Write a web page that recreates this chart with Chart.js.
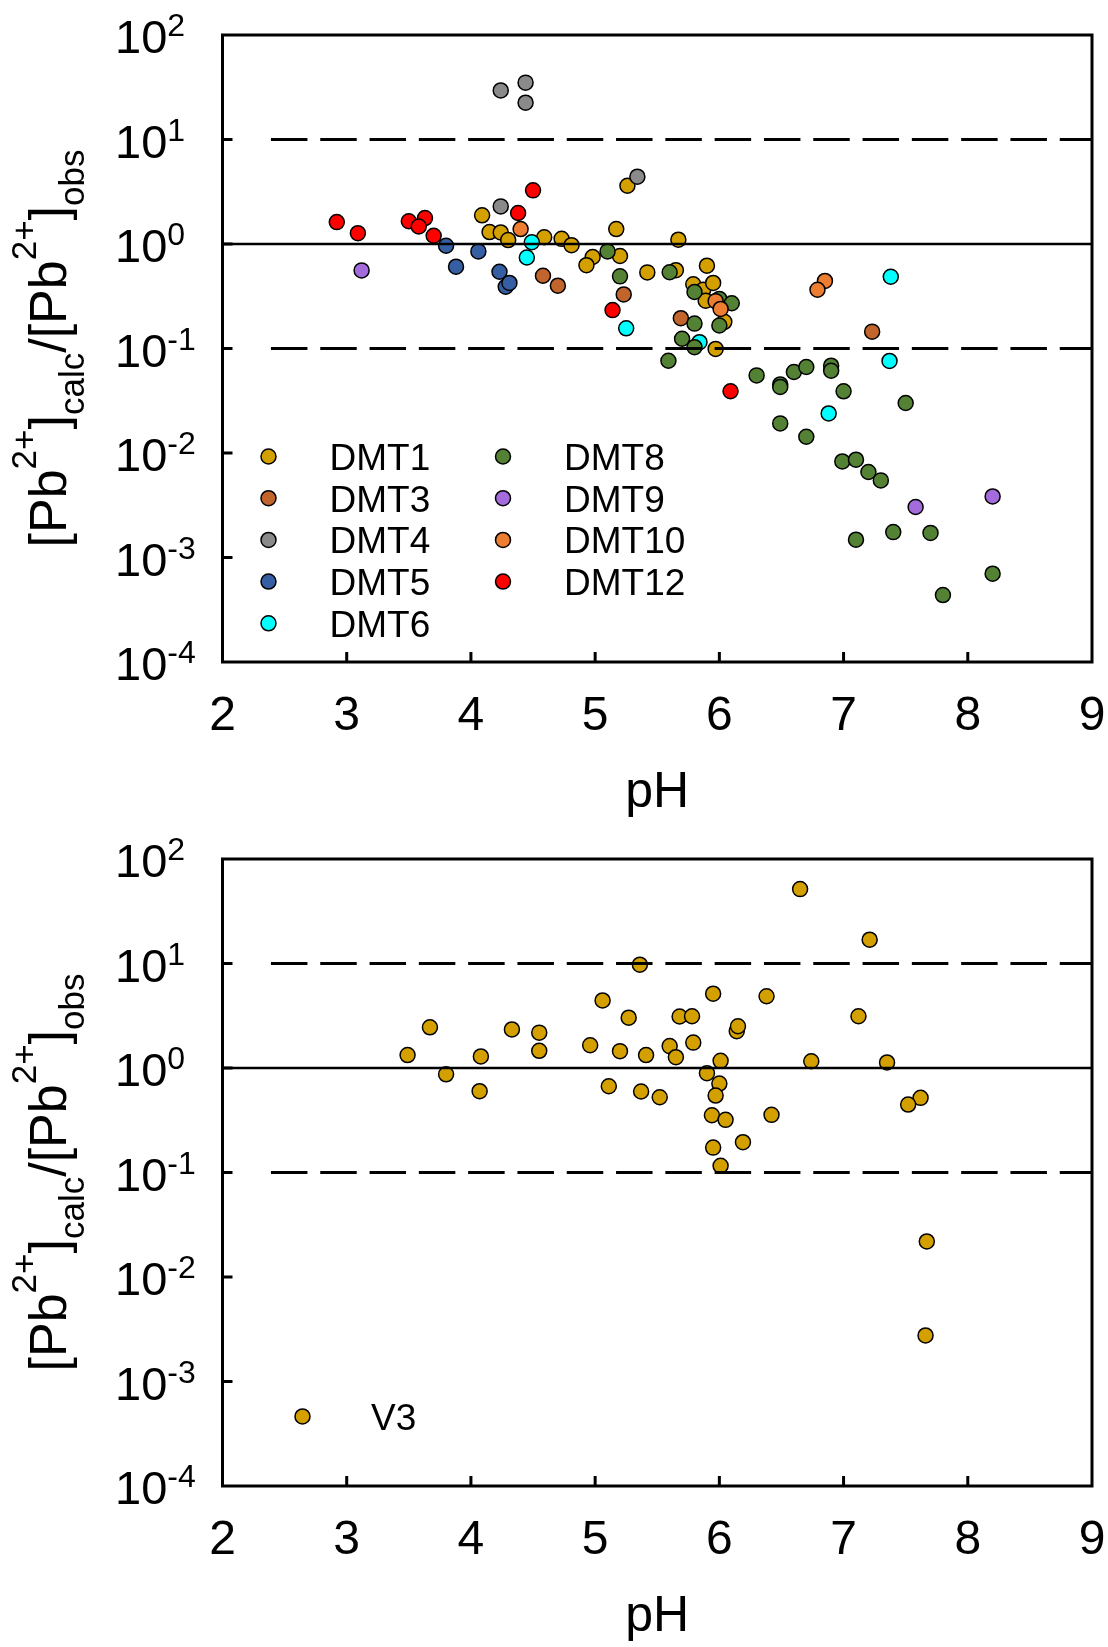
<!DOCTYPE html>
<html>
<head>
<meta charset="utf-8">
<script src="https://cdn.jsdelivr.net/npm/chart.js@4.4.1/dist/chart.umd.min.js"></script>
<style>
  html, body { margin: 0; padding: 0; background: #fff; overflow: hidden; }
  #wrap { position: relative; width: 1108px; height: 1647px; }
  canvas { position: absolute; left: 0; }
</style>
</head>
<body>
<div id="wrap">
  <canvas id="topChart" width="1108" height="824" style="top:0"></canvas>
  <canvas id="bottomChart" width="1108" height="823" style="top:824px"></canvas>
</div>
<script>
// axis ticks
const X_TICKS = [2, 3, 4, 5, 6, 7, 8, 9]
const Y_EXPONENTS = [2, 1, 0, -1, -2, -3, -4]

// reference lines (ratio = 10, 1, 0.1)
const REF_RATIOS = [10, 1, 0.1]
const REF_START_PH = [2.39, 2, 2.39]
const REF_END_PH = 9

// top panel series
const SERIES_LABELS = ['DMT1', 'DMT3', 'DMT4', 'DMT5', 'DMT6', 'DMT8', 'DMT9', 'DMT10', 'DMT12']
const SERIES_COLORS = ['#D4A000', '#C2652C', '#8A8A8A', '#365FA3', '#00FFFF', '#548235', '#A46BDD', '#ED7D31', '#FF0000']

const DMT1_PH = [4.09, 4.15, 4.24, 4.30, 4.59, 4.73, 4.81, 4.98, 4.93, 5.17, 5.20, 5.26, 5.42, 5.67, 5.65, 5.90, 5.79, 5.87, 5.95, 5.89, 6.04, 5.97]
const DMT1_RATIO = [1.88, 1.30, 1.29, 1.09, 1.16, 1.12, 0.974, 0.751, 0.627, 1.39, 0.768, 3.61, 0.535, 1.10, 0.562, 0.620, 0.412, 0.365, 0.424, 0.287, 0.180, 0.099]
const DMT3_PH = [4.58, 4.70, 5.23, 5.69, 7.23]
const DMT3_RATIO = [0.497, 0.399, 0.329, 0.195, 0.145]
const DMT4_PH = [4.24, 4.44, 4.44, 4.24, 5.34]
const DMT4_RATIO = [29.5, 35.0, 22.5, 2.29, 4.41]
const DMT5_PH = [3.80, 4.06, 3.88, 4.23, 4.28, 4.31]
const DMT5_RATIO = [0.963, 0.850, 0.607, 0.543, 0.390, 0.424]
const DMT6_PH = [4.49, 4.45, 5.25, 5.84, 7.38, 7.37, 6.88]
const DMT6_RATIO = [1.04, 0.743, 0.156, 0.115, 0.486, 0.076, 0.0239]
const DMT8_PH = [5.10, 5.20, 5.60, 5.80, 6.00, 6.10, 5.80, 6.00, 5.70, 5.80, 5.59, 6.30, 6.49, 6.49, 6.60, 6.70, 6.90, 6.90, 7.00, 7.50, 6.49, 6.70, 6.99, 7.10, 7.20, 7.30, 7.10, 7.40, 7.70, 7.80, 8.20]
const DMT8_RATIO = [0.850, 0.490, 0.537, 0.347, 0.298, 0.271, 0.173, 0.166, 0.124, 0.103, 0.0764, 0.0553, 0.0453, 0.0428, 0.0596, 0.0665, 0.0685, 0.0613, 0.0389, 0.0301, 0.0192, 0.0143, 0.00831, 0.00863, 0.00658, 0.00547, 0.00148, 0.00175, 0.00172, 0.000437, 0.000700]
const DMT9_PH = [3.12, 7.58, 8.20]
const DMT9_RATIO = [0.559, 0.00304, 0.00384]
const DMT10_PH = [4.40, 5.97, 6.01, 6.85, 6.79]
const DMT10_RATIO = [1.39, 0.284, 0.239, 0.443, 0.365]
const DMT12_PH = [2.92, 3.09, 3.50, 3.63, 3.58, 3.70, 4.50, 4.38, 5.14, 6.09]
const DMT12_RATIO = [1.62, 1.27, 1.65, 1.77, 1.47, 1.20, 3.26, 1.98, 0.233, 0.039]

// bottom panel series
const V3_LABEL = 'V3'
const V3_COLOR = '#D4A000'
const V3_PH = [3.49, 3.67, 3.80, 4.08, 4.07, 4.33, 4.55, 4.55, 4.96, 5.06, 5.11, 5.20, 5.27, 5.36, 5.37, 5.41, 5.52, 5.60, 5.65, 5.68, 5.78, 5.79, 5.95, 5.90, 6.01, 6.00, 5.97, 5.94, 6.05, 5.95, 6.01, 6.19, 6.14, 6.15, 6.38, 6.42, 6.65, 7.21, 7.12, 6.74, 7.35, 7.62, 7.52, 7.67, 7.66]
const V3_RATIO = [1.33, 2.45, 0.870, 1.29, 0.600, 2.34, 2.18, 1.46, 1.65, 4.43, 0.669, 1.45, 3.03, 9.74, 0.596, 1.33, 0.525, 1.62, 1.27, 3.11, 3.13, 1.75, 5.14, 0.892, 1.17, 0.710, 0.545, 0.353, 0.319, 0.173, 0.116, 0.195, 2.25, 2.51, 4.86, 0.356, 51.5, 16.9, 3.13, 1.16, 1.13, 0.518, 0.447, 0.0219, 0.00276]

const TOP_PH = [DMT1_PH, DMT3_PH, DMT4_PH, DMT5_PH, DMT6_PH, DMT8_PH, DMT9_PH, DMT10_PH, DMT12_PH]
const TOP_RATIO = [DMT1_RATIO, DMT3_RATIO, DMT4_RATIO, DMT5_RATIO, DMT6_RATIO, DMT8_RATIO, DMT9_RATIO, DMT10_RATIO, DMT12_RATIO]

const FONT = "'Liberation Sans', Arial, sans-serif"

function toPoints (xs, ys) {
  return xs.map((x, i) => ({ x, y: ys[i] }))
}

function scatterSet (label, color, xs, ys, order) {
  return {
    type: 'scatter',
    label,
    data: toPoints(xs, ys),
    backgroundColor: color,
    borderColor: '#000',
    borderWidth: 1.5,
    pointRadius: 7.5,
    pointHoverRadius: 7.5,
    order
  }
}

function refLines () {
  return REF_RATIOS.map((r, i) => ({
    type: 'line',
    label: '_ref',
    data: [{ x: REF_START_PH[i], y: r }, { x: REF_END_PH, y: r }],
    borderColor: '#000',
    borderWidth: r === 1 ? 2.5 : 2.8,
    borderDash: r === 1 ? [] : [36.5, 12.8],
    borderCapStyle: 'butt',
    pointRadius: 0,
    fill: false,
    order: 0
  }))
}

// draws "[Pb2+]calc/[Pb2+]obs" rotated, centred on cy with baseline at bx
function drawYTitle (ctx, bx, cy) {
  const parts = [['[Pb', 0], ['2+', -1], [']', 0], ['calc', 1], ['/[Pb', 0], ['2+', -1], [']', 0], ['obs', 1]]
  const big = '52px ' + FONT
  const small = '35px ' + FONT
  let total = 0
  parts.forEach(p => { ctx.font = p[1] === 0 ? big : small; total += ctx.measureText(p[0]).width })
  ctx.save()
  ctx.translate(bx, cy)
  ctx.rotate(-Math.PI / 2)
  ctx.textBaseline = 'alphabetic'
  ctx.textAlign = 'left'
  let x = -total / 2
  parts.forEach(p => {
    ctx.font = p[1] === 0 ? big : small
    const dy = p[1] === -1 ? -30 : (p[1] === 1 ? 18 : 0)
    ctx.fillText(p[0], x, dy)
    x += ctx.measureText(p[0]).width
  })
  ctx.restore()
}

const decoPlugin = {
  id: 'deco',
  afterDatasetsDraw (chart, args, opts) {
    const { ctx, chartArea: a } = chart
    const xs = chart.scales.x
    const ys = chart.scales.y
    ctx.save()
    ctx.strokeStyle = '#000'
    ctx.fillStyle = '#000'
    ctx.lineWidth = 3

    // inward tick marks
    ctx.beginPath()
    X_TICKS.forEach(v => {
      if (v <= xs.min || v >= xs.max) return
      const px = xs.getPixelForValue(v)
      ctx.moveTo(px, a.bottom)
      ctx.lineTo(px, a.bottom - 10)
    })
    Y_EXPONENTS.forEach(e => {
      const val = Math.pow(10, e)
      if (val <= ys.min || val >= ys.max) return
      const py = ys.getPixelForValue(val)
      ctx.moveTo(a.left, py)
      ctx.lineTo(a.left + 10, py)
    })
    ctx.stroke()

    // frame
    ctx.strokeRect(a.left, a.top, a.right - a.left, a.bottom - a.top)

    // x tick labels
    ctx.font = '48px ' + FONT
    ctx.textAlign = 'center'
    ctx.textBaseline = 'alphabetic'
    X_TICKS.forEach(v => {
      ctx.fillText(String(v), xs.getPixelForValue(v), a.bottom + 68)
    })

    // x title
    ctx.font = '50px ' + FONT
    ctx.fillText('pH', (a.left + a.right) / 2, a.bottom + 145)

    // y tick labels, 10 with superscript exponent
    ctx.textAlign = 'left'
    Y_EXPONENTS.forEach(e => {
      const py = ys.getPixelForValue(Math.pow(10, e))
      ctx.font = '47px ' + FONT
      ctx.fillText('10', 115, py + 18)
      const w = ctx.measureText('10').width
      ctx.font = '32px ' + FONT
      ctx.fillText(e < 0 ? '-' + (-e) : String(e), 115 + w, py + 1)
    })

    // y title
    drawYTitle(ctx, 66, (a.top + a.bottom) / 2)

    // legend
    const lg = opts.legend
    let k = 0
    chart.data.datasets.forEach(ds => {
      if (ds.type !== 'scatter') return
      const col = Math.floor(k / lg.rows)
      const row = k % lg.rows
      const mx = a.left + lg.x0 + col * lg.colDx
      const my = a.top + lg.y0 + row * lg.rowDy
      ctx.beginPath()
      ctx.arc(mx, my, 7.5, 0, Math.PI * 2)
      ctx.fillStyle = ds.backgroundColor
      ctx.fill()
      ctx.lineWidth = 1.5
      ctx.strokeStyle = '#000'
      ctx.stroke()
      ctx.fillStyle = '#000'
      ctx.font = lg.font + 'px ' + FONT
      ctx.fillText(ds.label, mx + lg.textDx, my + 13.5)
      k++
    })
    ctx.restore()
  }
}

function makeChart (id, datasets, legend, canvasH) {
  return new Chart(document.getElementById(id), {
    data: { datasets },
    options: {
      responsive: false,
      animation: false,
      devicePixelRatio: 1,
      events: [],
      layout: { autoPadding: false, padding: { top: 35, right: 16, left: 0, bottom: 0 } },
      scales: {
        x: {
          type: 'linear',
          min: 2,
          max: 9,
          grid: { display: false },
          border: { display: false },
          ticks: { display: false },
          afterFit: s => { s.height = canvasH - 662 }
        },
        y: {
          type: 'logarithmic',
          min: 1e-4,
          max: 100,
          grid: { display: false },
          border: { display: false },
          ticks: { display: false },
          afterFit: s => { s.width = 222.5 }
        }
      },
      plugins: {
        legend: { display: false },
        tooltip: { enabled: false },
        deco: { legend }
      }
    },
    plugins: [decoPlugin]
  })
}

const topSets = SERIES_LABELS.map((lab, i) =>
  scatterSet(lab, SERIES_COLORS[i], TOP_PH[i], TOP_RATIO[i], SERIES_LABELS.length - i)
).concat(refLines())

makeChart('topChart', topSets, { x0: 46, y0: 421.5, colDx: 234.5, rowDy: 41.7, rows: 5, textDx: 61, font: 37 }, 824)

const bottomSets = [scatterSet(V3_LABEL, V3_COLOR, V3_PH, V3_RATIO, 1)].concat(refLines())

makeChart('bottomChart', bottomSets, { x0: 80, y0: 557.4, colDx: 0, rowDy: 0, rows: 1, textDx: 68.5, font: 37 }, 823)
</script>
</body>
</html>
